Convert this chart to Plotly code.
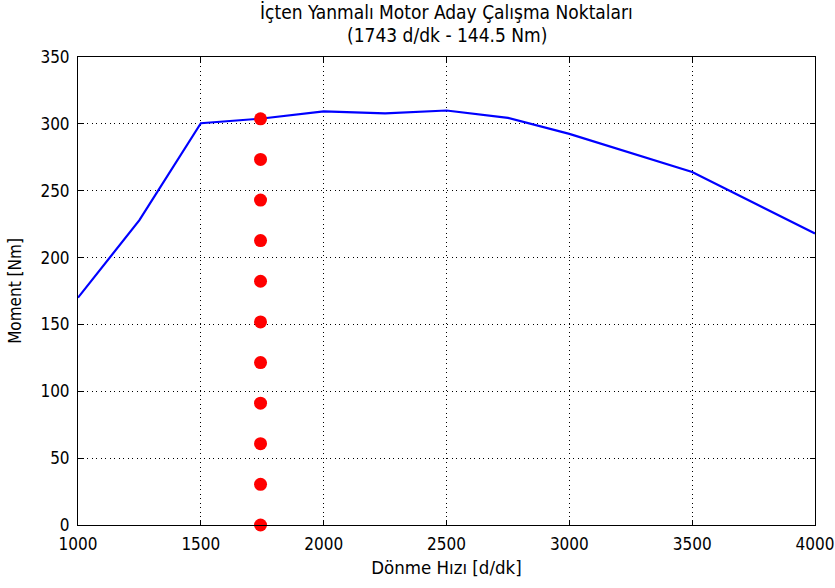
import plotly.graph_objects as go

# Full-load torque curve of the engine
speed_rpm = [1000, 1250, 1500, 1750, 2000, 2250, 2500, 2750, 3000, 3250, 3500, 3750, 4000]
torque_nm = [170.0, 228.0, 300.5, 304.0, 309.3, 307.8, 310.0, 304.5, 292.5, 278.5, 264.0, 241.0, 218.0]

# Candidate operating points at the chosen speed
op_speed = [1743] * 11
op_torque = [0.0, 30.4, 60.8, 91.1, 121.5, 151.9, 182.3, 212.7, 243.0, 273.4, 303.8]

title_lines = ["İçten Yanmalı Motor Aday Çalışma Noktaları", "(1743 d/dk - 144.5 Nm)"]
x_ticks = [1000, 1500, 2000, 2500, 3000, 3500, 4000]
y_ticks = [0, 50, 100, 150, 200, 250, 300, 350]

FONT = "DejaVu Sans Condensed, Liberation Sans, Arial, sans-serif"
TXT = dict(family=FONT, size=17, color="#000000")
TITLE_TXT = dict(family=FONT, size=19, color="#000000")
XLABEL_TXT = dict(family=FONT, size=18.5, color="#000000")

fig = go.Figure()
fig.add_trace(go.Scatter(
    x=speed_rpm, y=torque_nm, mode="lines",
    line=dict(color="#0000ff", width=2.2),
    showlegend=False, hoverinfo="skip",
))
fig.add_trace(go.Scatter(
    x=op_speed, y=op_torque, mode="markers",
    marker=dict(color="#ff0000", size=13, line=dict(width=0)),
    cliponaxis=False, showlegend=False,
))

axis_common = dict(
    showline=True, linecolor="#000000", linewidth=1, mirror="ticks",
    ticks="inside", ticklen=5, tickcolor="#000000", tickwidth=1,
    showgrid=True, gridcolor="#000000", gridwidth=1, griddash="1px,3.5px",
    zeroline=False, tickfont=TXT, automargin=False,
)

# Two-line title above the plotting area
for line_text, shift in zip(title_lines, [45, 22]):
    fig.add_annotation(
        text=line_text, xref="paper", yref="paper", x=0.5, y=1,
        xanchor="center", yanchor="middle", yshift=shift,
        showarrow=False, font=TITLE_TXT,
    )

fig.update_layout(
    width=835, height=588,
    margin=dict(l=78, r=20, t=57, b=63),
    paper_bgcolor="#ffffff", plot_bgcolor="#ffffff",
    font=TXT,
    xaxis=dict(
        range=[1000, 4000], tickvals=x_ticks, ticklabelstandoff=4,
        title=dict(text="Dönme Hızı [d/dk]", standoff=7, font=XLABEL_TXT),
        **axis_common,
    ),
    yaxis=dict(
        range=[0, 350], tickvals=y_ticks, ticklabelstandoff=4,
        title=dict(text="Moment [Nm]", standoff=14, font=TXT),
        **axis_common,
    ),
)

fig.write_html("out.html")
